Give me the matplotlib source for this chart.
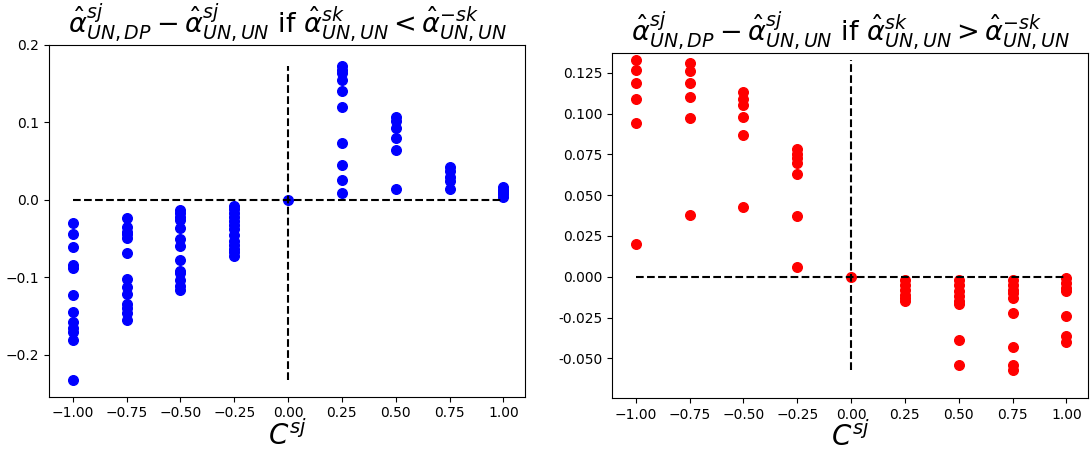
import numpy as np
import matplotlib.pyplot as plt

# correlation levels C^sj
c_levels = [-1.0, -0.75, -0.5, -0.25, 0.0, 0.25, 0.5, 0.75, 1.0]

# alpha_hat(UN,DP) - alpha_hat(UN,UN) when alpha_sk < alpha_-sk
diff_lower = [
    [-0.030, -0.044, -0.061, -0.084, -0.088, -0.123, -0.145, -0.158, -0.165, -0.171, -0.181, -0.233],
    [-0.024, -0.035, -0.041, -0.044, -0.049, -0.069, -0.102, -0.113, -0.122, -0.134, -0.140, -0.146, -0.155],
    [-0.013, -0.017, -0.022, -0.026, -0.036, -0.050, -0.059, -0.078, -0.092, -0.095, -0.104, -0.111, -0.117],
    [-0.008, -0.012, -0.017, -0.022, -0.028, -0.033, -0.038, -0.046, -0.053, -0.058, -0.063, -0.068, -0.072],
    [0.0],
    [0.172, 0.168, 0.163, 0.154, 0.140, 0.120, 0.073, 0.045, 0.025, 0.009],
    [0.107, 0.102, 0.092, 0.080, 0.064, 0.014],
    [0.042, 0.037, 0.030, 0.024, 0.014],
    [0.016, 0.013, 0.010, 0.007, 0.004],
]

# same difference when alpha_sk > alpha_-sk
diff_upper = [
    [0.133, 0.127, 0.119, 0.109, 0.094, 0.020],
    [0.131, 0.126, 0.119, 0.110, 0.097, 0.038],
    [0.113, 0.109, 0.105, 0.098, 0.087, 0.043],
    [0.078, 0.075, 0.073, 0.070, 0.063, 0.037, 0.006],
    [0.0],
    [-0.002, -0.005, -0.008, -0.011, -0.013, -0.015],
    [-0.002, -0.005, -0.009, -0.012, -0.015, -0.017, -0.039, -0.054],
    [-0.002, -0.005, -0.008, -0.010, -0.013, -0.022, -0.043, -0.054, -0.057],
    [-0.001, -0.004, -0.007, -0.009, -0.024, -0.036, -0.040],
]

title_lower = r'$\hat{\alpha}^{sj}_{UN,DP} - \hat{\alpha}^{sj}_{UN,UN}$ if $\hat{\alpha}^{sk}_{UN,UN} < \hat{\alpha}^{-sk}_{UN,UN}$'
title_upper = r'$\hat{\alpha}^{sj}_{UN,DP} - \hat{\alpha}^{sj}_{UN,UN}$ if $\hat{\alpha}^{sk}_{UN,UN} > \hat{\alpha}^{-sk}_{UN,UN}$'


def flatten(groups):
    xs, ys = [], []
    for c, vals in zip(c_levels, groups):
        xs += [c] * len(vals)
        ys += vals
    return np.array(xs), np.array(ys)


fig = plt.figure(figsize=(10.91, 4.51), dpi=100)
ax1 = fig.add_axes([49 / 1091, 1 - 396.7 / 451, 476 / 1091, 352 / 451])
ax2 = fig.add_axes([612 / 1091, 1 - 398 / 451, 476 / 1091, 345.3 / 451])

for ax, groups, color, title, ylim in [
        (ax1, diff_lower, 'blue', title_lower, (-0.254, 0.2)),
        (ax2, diff_upper, 'red', title_upper, (-0.0743, 0.1373))]:
    x, y = flatten(groups)
    ax.scatter(x, y, color=color, s=48, zorder=2)
    ax.hlines(0, min(c_levels), max(c_levels), colors='k', linestyles='--', zorder=3)
    ax.vlines(0, y.min(), y.max(), colors='k', linestyles='--', zorder=3)
    ax.set_xlim(-1.11, 1.10)
    ax.set_ylim(*ylim)
    ax.set_xticks([-1.0, -0.75, -0.5, -0.25, 0.0, 0.25, 0.5, 0.75, 1.0])
    ax.set_title(title, fontsize=19.5, pad=3)
    ax.set_xlabel(r'$C^{sj}$', fontsize=20, labelpad=0)

ax1.set_yticks([-0.2, -0.1, 0.0, 0.1, 0.2])
ax2.set_yticks([-0.05, -0.025, 0.0, 0.025, 0.05, 0.075, 0.1, 0.125])
ax2.yaxis.set_major_formatter(plt.FormatStrFormatter('%.3f'))

fig.savefig('out.png', dpi=100)
